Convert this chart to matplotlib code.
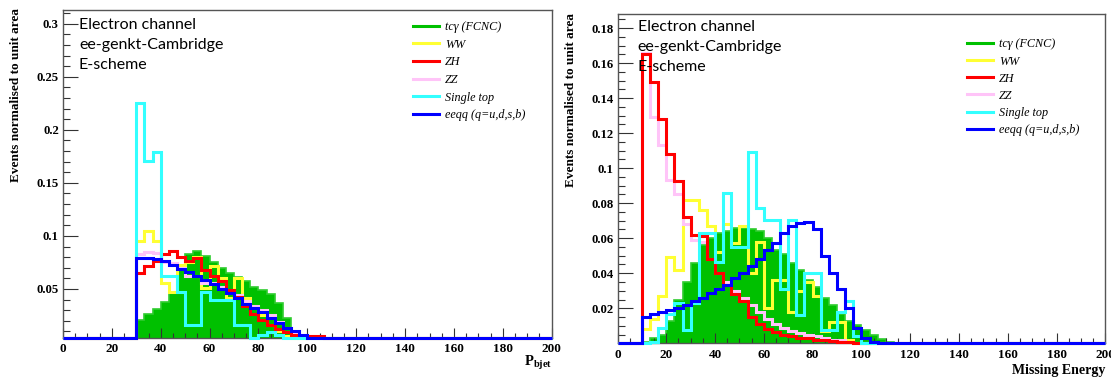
import numpy as np
import matplotlib
matplotlib.use('Agg')
import matplotlib.pyplot as plt
from matplotlib.lines import Line2D
from matplotlib.ticker import MultipleLocator, FixedLocator, FormatStrFormatter

plt.rcParams['mathtext.fontset'] = 'custom'
plt.rcParams['mathtext.bf'] = 'Liberation Serif:bold'
plt.rcParams['mathtext.rm'] = 'Liberation Serif'

# 60 bins of 10/3 GeV from 0 to 200
edges = np.linspace(0, 200, 61)

labels = ['tc\u03b3 (FCNC)', 'WW', 'ZH', 'ZZ', 'Single top', 'eeqq (q=u,d,s,b)']
colors = ['#00c000', '#ffff33', '#ff0000', '#ffc4f8', '#33ffff', '#0000ff']

# left: P_bjet, values listed from bin 9 (30 GeV) on
pb_start = 9
pb_tcg = [0.021, 0.026, 0.031, 0.038, 0.047, 0.068, 0.083, 0.086, 0.081, 0.075,
          0.070, 0.065, 0.061, 0.057, 0.052, 0.049, 0.045, 0.037, 0.023, 0.007, 0.003]
pb_ww = [0.095, 0.105, 0.095, 0.056, 0.047, 0.073, 0.075, 0.080, 0.051, 0.072,
         0.060, 0.041, 0.060, 0.041, 0.033, 0.025, 0.016, 0.010, 0.006, 0.003]
pb_zh = [0.065, 0.072, 0.076, 0.083, 0.086, 0.080, 0.076, 0.079, 0.068, 0.062,
         0.057, 0.049, 0.042, 0.034, 0.026, 0.021, 0.016, 0.012, 0.009, 0.007,
         0.006, 0.006, 0.006]
pb_zz = [0.083, 0.085, 0.084, 0.075, 0.074, 0.070, 0.062, 0.062, 0.056, 0.056,
         0.052, 0.048, 0.044, 0.039, 0.034, 0.030, 0.025, 0.019, 0.013, 0.008,
         0.005, 0.003]
pb_top = [0.225, 0.171, 0.179, 0.062, 0.062, 0.047, 0.016, 0.016, 0.047, 0.040,
          0.040, 0.040, 0.016, 0.016, 0.003, 0.007, 0.009, 0.007, 0.003, 0.001]
pb_eeqq = [0.079, 0.079, 0.078, 0.076, 0.073, 0.069, 0.066, 0.062, 0.058, 0.055,
           0.050, 0.046, 0.041, 0.036, 0.032, 0.028, 0.023, 0.018, 0.013, 0.010, 0.007]

# right: missing energy, values listed from bin 3 (10 GeV) on
me_start = 3
me_tcg = [0.001, 0.003, 0.005, 0.013, 0.025, 0.035, 0.046, 0.056, 0.060, 0.063,
          0.064, 0.066, 0.066, 0.065, 0.064, 0.060, 0.053, 0.051, 0.046, 0.042,
          0.036, 0.032, 0.026, 0.022, 0.017, 0.013, 0.0105, 0.0076, 0.0048, 0.0025, 0.001]
me_ww = [0.008, 0.014, 0.027, 0.049, 0.042, 0.082, 0.082, 0.076, 0.067, 0.052,
         0.068, 0.057, 0.067, 0.040, 0.058, 0.020, 0.036, 0.036, 0.018, 0.030,
         0.035, 0.027, 0.007, 0.012, 0.012, 0.002]
me_zh = [0.165, 0.149, 0.128, 0.108, 0.0925, 0.072, 0.062, 0.061, 0.048, 0.040,
         0.033, 0.028, 0.024, 0.015, 0.011, 0.008, 0.0065, 0.005, 0.004, 0.003,
         0.003, 0.002, 0.002, 0.0015, 0.001, 0.001]
me_zz = [0.166, 0.129, 0.113, 0.093, 0.085, 0.068, 0.059, 0.058, 0.048, 0.040,
         0.035, 0.030, 0.026, 0.022, 0.018, 0.014, 0.011, 0.009, 0.007, 0.006,
         0.005, 0.004, 0.003, 0.002, 0.002, 0.001]
me_top = [0.0, 0.001, 0.0086, 0.017, 0.023, 0.0076, 0.023, 0.063, 0.063, 0.0466,
          0.086, 0.055, 0.055, 0.1095, 0.077, 0.0705, 0.0705, 0.031, 0.0705, 0.016,
          0.040, 0.040, 0.0076, 0.0076, 0.018, 0.024, 0.004]
me_eeqq = [0.015, 0.017, 0.018, 0.019, 0.020, 0.022, 0.024, 0.026, 0.029, 0.031,
           0.033, 0.037, 0.040, 0.044, 0.048, 0.053, 0.057, 0.063, 0.067, 0.0686,
           0.0695, 0.065, 0.050, 0.040, 0.031, 0.020, 0.009, 0.003, 0.001]

left_yticks = [0.05, 0.1, 0.15, 0.2, 0.25, 0.3]
right_yticks = [0.02, 0.04, 0.06, 0.08, 0.1, 0.12, 0.14, 0.16, 0.18]


def full(start, vals):
    h = np.zeros(len(edges) - 1)
    h[start:start + len(vals)] = vals
    return h


def px(x, y):
    return x / 1111, 1 - y / 377


def draw(ax, hists, ymin):
    g = np.maximum(hists[0], ymin)
    ax.stairs(g, edges, baseline=ymin, fill=True, color=colors[0], zorder=1)
    ax.stairs(g, edges, baseline=None, color='#30cc30', lw=1.2, zorder=1.1)
    # yellow, pink, red, cyan, blue drawn in that order
    for z, i in enumerate([1, 3, 2, 4, 5]):
        ax.stairs(np.maximum(hists[i], ymin), edges, baseline=None,
                  color=colors[i], lw=2.2, zorder=3 + z, clip_on=False)


def style(ax, yticks, yminor):
    ax.set_xlim(0, 200)
    ax.xaxis.set_major_locator(MultipleLocator(20))
    ax.xaxis.set_minor_locator(MultipleLocator(5))
    ax.yaxis.set_major_locator(FixedLocator(yticks))
    ax.yaxis.set_minor_locator(MultipleLocator(yminor))
    ax.yaxis.set_major_formatter(FormatStrFormatter('%g'))
    ax.tick_params(axis='x', which='major', direction='in', length=7, width=0.8,
                   color='#333333', pad=4, labelsize=9.5)
    ax.tick_params(axis='x', which='minor', direction='in', length=3.3, width=0.8,
                   color='#333333')
    ax.tick_params(axis='y', which='major', direction='in', length=11, width=0.8,
                   color='#333333', pad=3, labelsize=9.2)
    ax.tick_params(axis='y', which='minor', direction='in', length=5, width=0.8,
                   color='#333333')
    for lab in ax.get_xticklabels() + ax.get_yticklabels():
        lab.set_fontfamily('Liberation Serif')
        lab.set_fontweight('bold')
    for s in ax.spines.values():
        s.set_color('#555555')
        s.set_linewidth(1)
    return [Line2D([], [], color=c, lw=2.2) for c in colors]


fig = plt.figure(figsize=(11.11, 3.77), dpi=100)

ax1 = fig.add_axes([63 / 1111, 1 - 337.7 / 377, (551.7 - 63) / 1111, (337.7 - 9.5) / 377])
ax2 = fig.add_axes([617.5 / 1111, 1 - 343.3 / 377, (1105.3 - 617.5) / 1111, (343.3 - 14) / 377])

left = [full(pb_start, v) for v in [pb_tcg, pb_ww, pb_zh, pb_zz, pb_top, pb_eeqq]]
right = [full(me_start, v) for v in [me_tcg, me_ww, me_zh, me_zz, me_top, me_eeqq]]

draw(ax1, left, 0.004)
ax1.set_ylim(0.004, 0.3135)
h1 = style(ax1, left_yticks, 0.01)

draw(ax2, right, 0.0)
ax2.set_ylim(0, 0.188)
h2 = style(ax2, right_yticks, 0.005)

leg_font = {'family': 'Liberation Serif', 'style': 'italic', 'size': 8.7}
ax1.legend(h1, labels, loc='upper left', bbox_to_anchor=px(413, 21),
           bbox_transform=fig.transFigure, frameon=False, prop=leg_font,
           handlelength=2.15, handletextpad=0.5, labelspacing=0.47,
           borderpad=0, borderaxespad=0)
ax2.legend(h2, labels, loc='upper left', bbox_to_anchor=px(966.7, 38.5),
           bbox_transform=fig.transFigure, frameon=False, prop=leg_font,
           handlelength=2.15, handletextpad=0.5, labelspacing=0.42,
           borderpad=0, borderaxespad=0)

ylab = 'Events normalised to unit area'
fig.text(*px(16, 95), ylab, rotation=90, ha='center', va='center',
         family='Liberation Serif', weight='bold', size=9.5)
fig.text(*px(571, 100), ylab, rotation=90, ha='center', va='center',
         family='Liberation Serif', weight='bold', size=9.5)

fig.text(*px(552, 363), r'$\mathbf{P}_{\mathbf{bjet}}$', ha='right', va='center', size=10.5)
fig.text(*px(1105, 364), 'Missing Energy', ha='right', va='top',
         family='Liberation Serif', weight='bold', size=10)

notes = ['Electron channel', 'ee-genkt-Cambridge', 'E-scheme']
for i, line in enumerate(notes):
    fig.text(*px(79, 25 + 20 * i), line, ha='left', va='center', family='Lato', size=11.5)
    fig.text(*px(637.7, 26.7 + 20 * i), line, ha='left', va='center', family='Lato', size=11.5)

fig.savefig('out.png', dpi=100)
